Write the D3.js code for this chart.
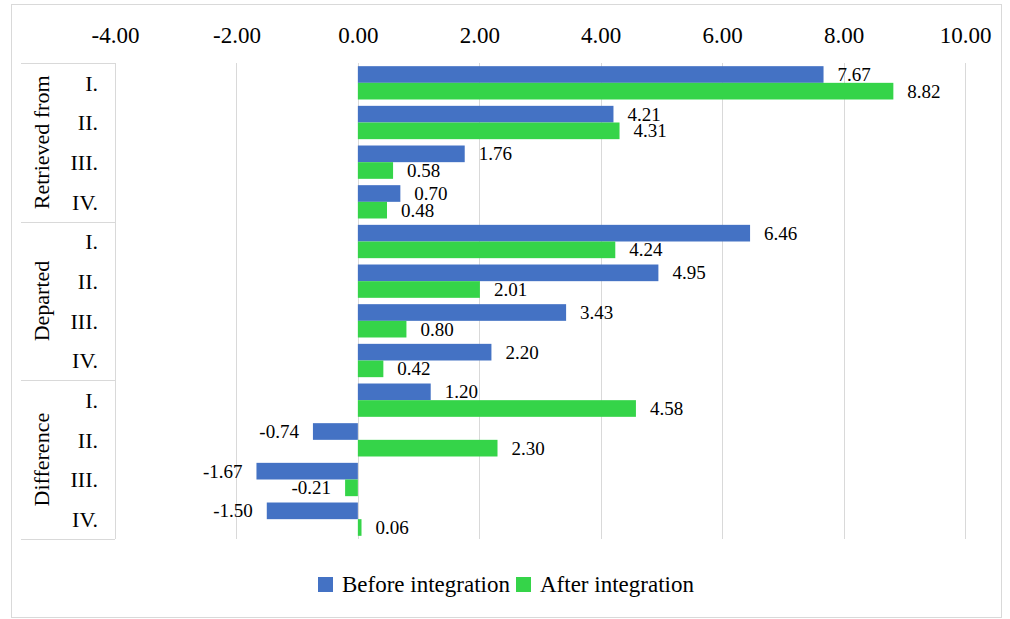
<!DOCTYPE html>
<html>
<head>
<meta charset="utf-8">
<script src="https://cdn.jsdelivr.net/npm/d3@7"></script>
<style>
  body { margin: 0; background: #fff; }
</style>
</head>
<body>
<script>
// chart data
var groups = ["Retrieved from", "Departed", "Difference"];
var periods = ["I.", "II.", "III.", "IV."];
var seriesNames = ["Before integration", "After integration"];
var beforeValues = [7.67, 4.21, 1.76, 0.70, 6.46, 4.95, 3.43, 2.20, 1.20, -0.74, -1.67, -1.50];
var afterValues = [8.82, 4.31, 0.58, 0.48, 4.24, 2.01, 0.80, 0.42, 4.58, 2.30, -0.21, 0.06];
var xTicks = [-4, -2, 0, 2, 4, 6, 8, 10];
var colors = ["#4472c4", "#35d449"];

var serif = "'Liberation Serif', 'Times New Roman', Tinos, 'DejaVu Serif', serif";
// excel style numbers with a plain hyphen
function fmt(v) { return v.toFixed(2); }

// build rows
var rows = [];
groups.forEach(function(g, gi) {
  periods.forEach(function(p, pi) {
    var i = gi * periods.length + pi;
    rows.push({ id: i, group: g, period: p, values: [beforeValues[i], afterValues[i]] });
  });
});

var W = 1010, H = 619;
var svg = d3.select("body").append("svg")
    .attr("width", W)
    .attr("height", H)
    .attr("font-family", serif)
    .style("font-family", serif);

// outer border
svg.append("rect")
    .attr("x", 11.5).attr("y", 4.5)
    .attr("width", 990).attr("height", 613)
    .attr("fill", "none")
    .attr("stroke", "#d9d9d9");

var plotTop = 63, plotBottom = 539;

var x = d3.scaleLinear()
    .domain([-4, 10])
    .range([115, 965]);

var y = d3.scaleBand()
    .domain(rows.map(function(d) { return d.id; }))
    .range([plotTop, plotBottom])
    .paddingInner(0.16)
    .paddingOuter(0.08);

var ySub = d3.scaleBand()
    .domain([0, 1])
    .range([0, y.bandwidth()]);

// gridlines
svg.append("g")
  .selectAll("line")
  .data(xTicks)
  .enter().append("line")
    .attr("x1", function(d) { return Math.round(x(d)) + 0.5; })
    .attr("x2", function(d) { return Math.round(x(d)) + 0.5; })
    .attr("y1", plotTop)
    .attr("y2", plotBottom)
    .attr("stroke", "#d9d9d9");

// top axis
var xAxis = svg.append("g")
    .attr("transform", "translate(0," + (plotTop - 17) + ")")
    .call(d3.axisTop(x).tickValues(xTicks).tickFormat(fmt).tickSize(0));
xAxis.attr("font-family", null).attr("font-size", null);
xAxis.select(".domain").remove();
xAxis.selectAll("text")
    .style("font-family", serif)
    .style("font-size", "23px")
    .attr("fill", "#000");

// category table lines
var step = y.step();
for (var k = 0; k <= groups.length; k++) {
  var yy = Math.round(plotTop + k * periods.length * step) + 0.5;
  svg.append("line")
      .attr("x1", 21).attr("x2", 115)
      .attr("y1", yy).attr("y2", yy)
      .attr("stroke", "#d9d9d9");
}

// period labels
svg.append("g")
  .selectAll("text")
  .data(rows)
  .enter().append("text")
    .attr("x", 98)
    .attr("y", function(d) { return y(d.id) + y.bandwidth() / 2; })
    .attr("dy", "0.35em")
    .attr("text-anchor", "end")
    .style("font-size", "22px")
    .text(function(d) { return d.period; });

// group labels (vertical)
svg.append("g")
  .selectAll("text")
  .data(groups)
  .enter().append("text")
    .attr("transform", function(d, i) {
      var cy = plotTop + (i + 0.5) * periods.length * step;
      return "translate(41," + cy + ") rotate(-90)";
    })
    .attr("dy", "0.35em")
    .attr("text-anchor", "middle")
    .style("font-size", "22px")
    .text(function(d) { return d; });

// bars
var rowG = svg.append("g")
  .selectAll("g")
  .data(rows)
  .enter().append("g")
    .attr("transform", function(d) { return "translate(0," + y(d.id) + ")"; });

rowG.selectAll("rect")
  .data(function(d) { return d.values; })
  .enter().append("rect")
    .attr("x", function(v) { return x(Math.min(0, v)); })
    .attr("y", function(v, i) { return ySub(i); })
    .attr("width", function(v) { return Math.abs(x(v) - x(0)); })
    .attr("height", ySub.bandwidth())
    .attr("fill", function(v, i) { return colors[i]; });

// data labels
rowG.selectAll("text")
  .data(function(d) { return d.values; })
  .enter().append("text")
    .attr("x", function(v) { return v < 0 ? x(v) - 14 : x(v) + 14; })
    .attr("y", function(v, i) { return ySub(i) + ySub.bandwidth() / 2; })
    .attr("dy", "0.35em")
    .attr("text-anchor", function(v) { return v < 0 ? "end" : "start"; })
    .style("font-size", "19px")
    .text(fmt);

// legend
var legend = svg.append("g");
var legendX = [318, 516];
seriesNames.forEach(function(name, i) {
  legend.append("rect")
      .attr("x", legendX[i]).attr("y", 577)
      .attr("width", 15).attr("height", 15)
      .attr("fill", colors[i]);
  legend.append("text")
      .attr("x", legendX[i] + 24)
      .attr("y", 592)
      .style("font-size", "23px")
      .text(name);
});
</script>
</body>
</html>
